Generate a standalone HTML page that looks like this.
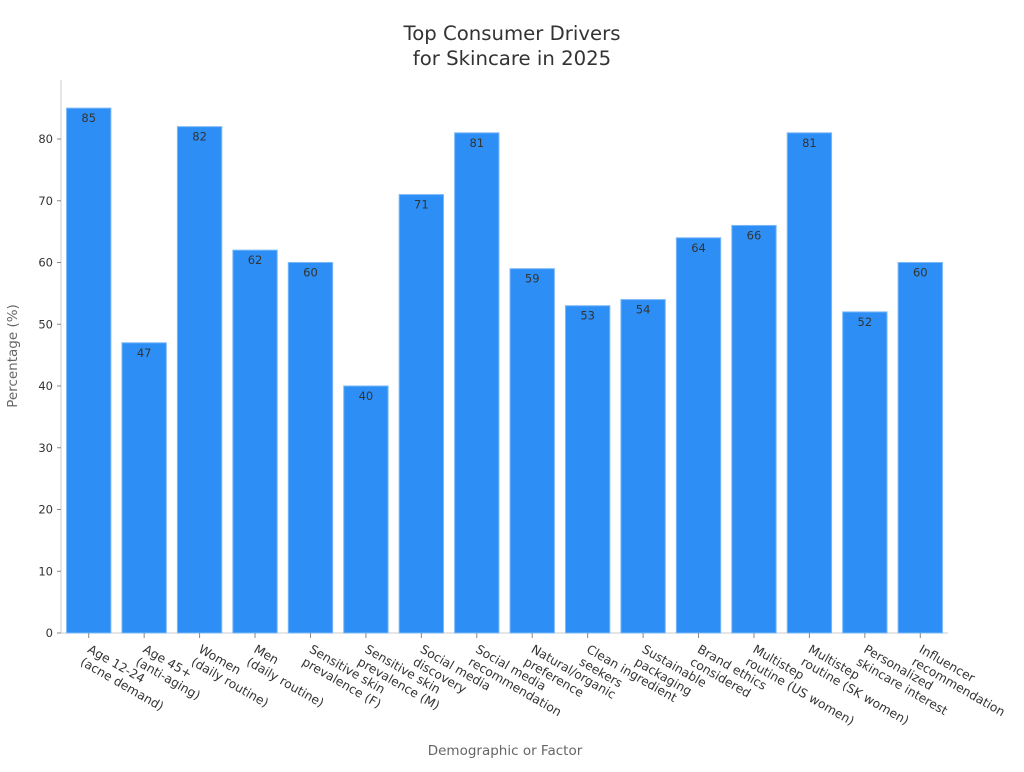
<!DOCTYPE html>
<html><head><meta charset="utf-8"><style>
body{margin:0;background:#fff;font-family:"DejaVu Sans","Liberation Sans",sans-serif;}
svg text{font-family:"DejaVu Sans","Liberation Sans",sans-serif;}
</style></head><body>
<svg id="chart" width="1024" height="768">
<text x="512" y="40" text-anchor="middle" font-size="19.7" fill="#333"><tspan x="512">Top Consumer Drivers</tspan><tspan x="512" dy="25">for Skincare in 2025</tspan></text>
<text x="505" y="755" text-anchor="middle" font-size="13.5" fill="#666">Demographic or Factor</text>
<text transform="translate(17,356) rotate(-90)" text-anchor="middle" font-size="13.5" fill="#666">Percentage (%)</text>
<g id="plot"></g>
</svg>
<script>
const categories=["Age 12-24\n(acne demand)","Age 45+\n(anti-aging)","Women\n(daily routine)","Men\n(daily routine)","Sensitive skin\nprevalence (F)","Sensitive skin\nprevalence (M)","Social media\ndiscovery","Social media\nrecommendation","Natural/organic\npreference","Clean ingredient\nseekers","Sustainable\npackaging","Brand ethics\nconsidered","Multistep\nroutine (US women)","Multistep\nroutine (SK women)","Personalized\nskincare interest","Influencer\nrecommendation"];
const values=[85,47,82,62,60,40,71,81,59,53,54,64,66,81,52,60];
const yTicks=[0,10,20,30,40,50,60,70,80];
const NS="http://www.w3.org/2000/svg";
const g=document.getElementById('plot');
const x0=61,x1=948,yBase=633,yTop=80;
const band=(x1-x0)/categories.length;
function y(v){return yBase-v*6.175;}
function xc(i){return x0+band*(i+0.5);}
function mk(t,a){const e=document.createElementNS(NS,t);for(const k in a)e.setAttribute(k,a[k]);g.appendChild(e);return e;}
let ax=mk('line',{x1:x0,y1:yTop,x2:x0,y2:yBase,stroke:'#ccc'});


let bx=mk('line',{x1:x0,y1:yBase,x2:x1,y2:yBase,stroke:'#ccc'});


yTicks.forEach(t=>{
 mk('line',{x1:x0-4,y1:y(t),x2:x0,y2:y(t),stroke:'#888'});
 const tx=mk('text',{x:x0-8,y:y(t)+4,'text-anchor':'end','font-size':11.5,fill:'#333'});
 tx.textContent=t;
 
 
});
values.forEach((v,i)=>{
 const w=band*0.8,cx=xc(i);
 const r=mk('rect',{x:cx-w/2,y:y(v),width:w,height:yBase-y(v),fill:'#2d8ff5',stroke:'#7bb8f8','stroke-width':1});
 
 
 const lt=mk('text',{x:cx,y:y(v)+14,'text-anchor':'middle','font-size':11.5,fill:'#333'});
 lt.textContent=v;
 
 
 mk('line',{x1:cx,y1:yBase,x2:cx,y2:yBase+5,stroke:'#888'});
 const lines=categories[i].split('\n');
 const tg=mk('g',{transform:`translate(${cx+3},${yBase+10}) rotate(30)`});
 
 
 lines.forEach((s,j)=>{
  const t=document.createElementNS(NS,'text');
  t.setAttribute('x',0);t.setAttribute('y',10+j*14.5);
  t.setAttribute('font-size',12.3);t.setAttribute('fill','#333');
  t.textContent=s;tg.appendChild(t);
 });
});
</script>
</body></html>
